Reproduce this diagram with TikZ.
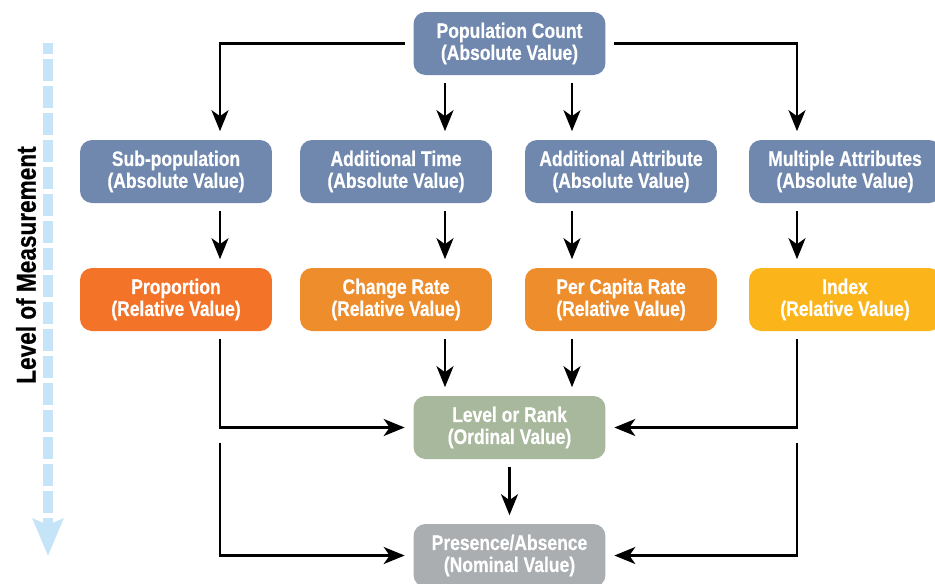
\documentclass[tikz,border=0pt]{standalone}
\usepackage{fontspec}
\setmainfont{Liberation Sans}[FakeStretch=0.83, BoldFeatures={FakeBold=0.5}]
\usetikzlibrary{arrows.meta,calc}

\definecolor{absblue}{HTML}{7088AE}
\definecolor{propred}{HTML}{F37329}
\definecolor{rateorange}{HTML}{EE8D2B}
\definecolor{idxyellow}{HTML}{FBB51B}
\definecolor{ordgreen}{HTML}{A8B89C}
\definecolor{nomgrey}{HTML}{ABAEB1}
\definecolor{lomblue}{HTML}{C6E4F8}

\tikzset{
  valbox/.style={rounded corners=0.24cm, minimum width=3.84cm, minimum height=1.26cm,
    inner sep=0pt, align=center, text=white,
    font=\fontsize{12}{12.5}\selectfont\bfseries},
  flowarr/.style={line width=0.05cm, shorten <=0.16cm, shorten >=0.17cm,
    -{Stealth[length=0.42cm,width=0.34cm,inset=0.12cm]}}
}

\begin{document}
\begin{tikzpicture}[x=0.02cm,y=-0.02cm]
                \useasboundingbox (0,0) rectangle (935,583);

                % Level of measurement arrow
                \coordinate (lomtop) at (48,43);
                \coordinate (lombot) at (48,556);
                \draw [lomblue, line width=0.2cm, dash pattern=on 0.44cm off 0.1cm, dash phase=0.22cm,
                  -{Stealth[length=0.74cm,width=0.6cm,inset=0.12cm]}] (lomtop) -- (lombot);%
                \node [rotate=90, font=\fontsize{15.5}{17}\selectfont\bfseries] (lomlabel) at (26,265) {Level of Measurement};%

                % Columns of the connectors
                \coordinate (colA) at (220,0);
                \coordinate (colB) at (445,0);
                \coordinate (colC) at (572,0);
                \coordinate (colD) at (797,0);

                % Absolute values
                \node [valbox, fill=absblue] (pop) at (509.5,43.5) {Population Count\\(Absolute Value)};%
                \node [valbox, fill=absblue] (sub) at (176,171.5) {Sub-population\\(Absolute Value)};%
                \node [valbox, fill=absblue] (tim) at (396,171.5) {Additional Time\\(Absolute Value)};%
                \node [valbox, fill=absblue] (att) at (621,171.5) {Additional Attribute\\(Absolute Value)};%
                \node [valbox, fill=absblue] (mul) at (845,171.5) {Multiple Attributes\\(Absolute Value)};%

                % Relative values
                \node [valbox, fill=propred] (prop) at (176,299.5) {Proportion\\(Relative Value)};%
                \node [valbox, fill=rateorange] (chg) at (396,299.5) {Change Rate\\(Relative Value)};%
                \node [valbox, fill=rateorange] (pcr) at (621,299.5) {Per Capita Rate\\(Relative Value)};%
                \node [valbox, fill=idxyellow] (idx) at (845,299.5) {Index\\(Relative Value)};%

                % Ordinal and nominal values
                \node [valbox, fill=ordgreen] (lvl) at (509.5,427.5) {Level or Rank\\(Ordinal Value)};%
                \node [valbox, fill=nomgrey] (pres) at (509.5,555.5) {Presence/Absence\\(Nominal Value)};%

                % Connectors from the population count
                \draw [flowarr] (pop.west) -| (colA |- sub.north);%
                \draw [flowarr] (pop.east) -| (colD |- mul.north);%
                \draw [flowarr] (colB |- pop.south) -- (colB |- tim.north);%
                \draw [flowarr] (colC |- pop.south) -- (colC |- att.north);%

                % Connectors to the relative values
                \draw [flowarr] (colA |- sub.south) -- (colA |- prop.north);%
                \draw [flowarr] (colB |- tim.south) -- (colB |- chg.north);%
                \draw [flowarr] (colC |- att.south) -- (colC |- pcr.north);%
                \draw [flowarr] (colD |- mul.south) -- (colD |- idx.north);%

                % Connectors to the level or rank
                \draw [flowarr] (colA |- prop.south) |- (lvl.west);%
                \draw [flowarr] (colB |- chg.south) -- (colB |- lvl.north);%
                \draw [flowarr] (colC |- pcr.south) -- (colC |- lvl.north);%
                \draw [flowarr] (colD |- idx.south) |- (lvl.east);%

                % Connectors to the presence or absence
                \draw [flowarr, shorten <=0pt] ($(colA |- lvl.west)+(0,15)$) |- (pres.west);%
                \draw [flowarr, shorten <=0pt] ($(colD |- lvl.east)+(0,15)$) |- (pres.east);%
                \draw [flowarr] (lvl.south) -- (pres.north);%
\end{tikzpicture}
\end{document}
